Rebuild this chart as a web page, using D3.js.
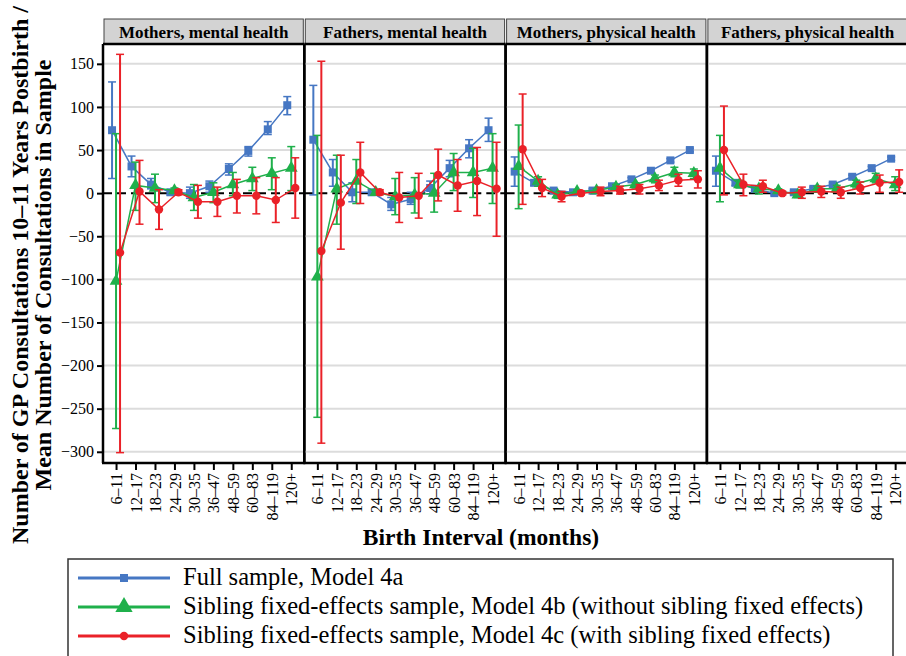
<!DOCTYPE html>
<html>
<head>
<meta charset="utf-8">
<script src="https://cdn.jsdelivr.net/npm/d3@7"></script>
<style>
  body { margin: 0; background: #fff; }
</style>
</head>
<body>
<div id="chart"></div>
<script>
'use strict';

var categories = ['6–11', '12–17', '18–23', '24–29', '30–35', '36–47', '48–59', '60–83', '84–119', '120+'];
var panels = ['Mothers, mental health', 'Fathers, mental health', 'Mothers, physical health', 'Fathers, physical health'];
var seriesNames = [
  'Full sample, Model 4a',
  'Sibling fixed-effects sample, Model 4b (without sibling fixed effects)',
  'Sibling fixed-effects sample, Model 4c (with sibling fixed effects)'
];
var yTicks = [150, 100, 50, 0, -50, -100, -150, -200, -250, -300];

// full sample, model 4a (one row per panel)
var fullEst = [
  [73, 31, 10, 1, 0, 8, 28, 49, 74, 102],
  [62, 24, 1, 1, -13, -7, 6, 29, 52, 73],
  [25, 12, 3, 1, 3, 8, 16, 26, 38, 50],
  [26, 12, 5, 0, 1, 5, 10, 19, 29, 40]
];
var fullLo = [
  [17, 19, 5, -2, -6, 1, 21, 43, 68, 91],
  [-2, 8, -10, -2, -20, -13, -1, 19, 41, 60],
  [8, 9, 1, -1, 1, 6, 14, 24, 36, 48],
  [8, 9, 3, -2, -1, 3, 8, 17, 27, 38]
];
var fullHi = [
  [129, 43, 17, 4, 7, 14, 34, 54, 83, 112],
  [125, 39, 12, 4, -5, 1, 14, 38, 62, 87],
  [42, 15, 5, 3, 5, 10, 18, 28, 40, 52],
  [43, 15, 7, 2, 3, 7, 12, 21, 31, 42]
];

// sibling fixed-effects sample, model 4b
var sibEst = [
  [-102, 9, 6, 3, -5, 1, 10, 17, 23, 29],
  [-97, 5, 14, 1, -4, -2, 0, 24, 24, 29],
  [31, 14, -2, 2, 3, 7, 10, 17, 24, 23],
  [29, 10, 5, 3, -2, 5, 5, 11, 17, 10]
];
var sibLo = [
  [-273, -20, -11, 0, -20, -11, -3, 3, 4, 3],
  [-260, -36, -12, -2, -25, -23, -22, 3, -5, -12],
  [-18, 8, -6, 0, 1, 4, 6, 12, 19, 17],
  [-10, 6, -1, 1, -5, 1, 1, 6, 12, 3]
];
var sibHi = [
  [69, 36, 22, 6, 10, 12, 24, 30, 41, 54],
  [67, 44, 39, 4, 17, 18, 23, 46, 52, 69],
  [79, 19, 1, 4, 5, 10, 12, 21, 30, 28],
  [67, 15, 8, 5, 1, 8, 9, 15, 23, 19]
];

// sibling fixed-effects sample, model 4c
var feEst = [
  [-69, 2, -19, 1, -10, -10, -3, -3, -8, 6],
  [-67, -11, 24, 1, -5, -3, 21, 9, 14, 5],
  [51, 6, -4, 0, 2, 3, 5, 9, 15, 16],
  [50, 10, 8, 0, 1, 2, 1, 6, 12, 13]
];
var feLo = [
  [-301, -36, -42, -2, -29, -27, -23, -24, -34, -29],
  [-290, -65, -12, -2, -34, -29, -9, -21, -26, -50],
  [-13, -4, -10, -2, -3, -1, -1, 3, 8, 6],
  [-2, -3, 1, -2, -6, -5, -6, -1, 1, 1]
];
var feHi = [
  [161, 38, 4, 4, 9, 7, 16, 18, 18, 41],
  [153, 44, 59, 4, 24, 23, 51, 39, 53, 59],
  [115, 16, 2, 2, 7, 8, 10, 15, 22, 26],
  [101, 22, 15, 2, 7, 8, 7, 13, 21, 27]
];

var colors = ['#4677c3', '#1fb04b', '#ea2128'];
var dodge = [-4, 0, 4];
var SERIF = '"Liberation Serif", "Times New Roman", serif';

var W = 906, H = 656;
var plotLeft = 103, plotTop = 44, plotBottom = 463, panelW = 201.3;

var svg = d3.select('#chart').append('svg')
  .attr('width', W)
  .attr('height', H);

var y = d3.scaleLinear()
  .domain([-313, 173])
  .range([plotBottom, plotTop]);

var x = d3.scalePoint()
  .domain(categories)
  .range([0, panelW])
  .padding(0.67);

var series = [
  {est: fullEst, lo: fullLo, hi: fullHi, shape: d3.symbolSquare, size: 64},
  {est: sibEst, lo: sibLo, hi: sibHi, shape: d3.symbolTriangle, size: 70},
  {est: feEst, lo: feLo, hi: feHi, shape: d3.symbolCircle, size: 56}
];

panels.forEach(function(title, p) {
  var g = svg.append('g')
    .attr('transform', 'translate(' + (plotLeft + p * panelW) + ',0)');

  // grid
  g.selectAll('.grid')
    .data(yTicks.filter(function(t) { return t !== 0; }))
    .enter().append('line')
    .attr('x1', 0).attr('x2', panelW)
    .attr('y1', function(d) { return y(d); })
    .attr('y2', function(d) { return y(d); })
    .attr('stroke', '#dcdcdc')
    .attr('stroke-width', 2);

  g.append('line')
    .attr('x1', 0).attr('x2', panelW)
    .attr('y1', y(0)).attr('y2', y(0))
    .attr('stroke', '#000')
    .attr('stroke-width', 2)
    .attr('stroke-dasharray', '9,5');

  series.forEach(function(s, k) {
    var pts = categories.map(function(c, i) {
      return {x: x(c) + dodge[k], est: s.est[p][i], lo: s.lo[p][i], hi: s.hi[p][i]};
    });
    var sg = g.append('g');

    sg.append('path')
      .datum(pts)
      .attr('fill', 'none')
      .attr('stroke', colors[k])
      .attr('stroke-width', 1.5)
      .attr('d', d3.line()
        .x(function(d) { return d.x; })
        .y(function(d) { return y(d.est); }));

    var bars = sg.selectAll('.err')
      .data(pts)
      .enter().append('g');
    bars.append('line')
      .attr('x1', function(d) { return d.x; })
      .attr('x2', function(d) { return d.x; })
      .attr('y1', function(d) { return y(d.lo); })
      .attr('y2', function(d) { return y(d.hi); })
      .attr('stroke', colors[k])
      .attr('stroke-width', 2);
    ['lo', 'hi'].forEach(function(key) {
      bars.append('line')
        .attr('x1', function(d) { return d.x - 4; })
        .attr('x2', function(d) { return d.x + 4; })
        .attr('y1', function(d) { return y(d[key]); })
        .attr('y2', function(d) { return y(d[key]); })
        .attr('stroke', colors[k])
        .attr('stroke-width', 1.5);
    });

    sg.selectAll('.mark')
      .data(pts)
      .enter().append('path')
      .attr('transform', function(d) { return 'translate(' + d.x + ',' + y(d.est) + ')'; })
      .attr('d', d3.symbol().type(s.shape).size(s.size))
      .attr('fill', colors[k]);
  });

  // panel frame
  g.append('line')
    .attr('x1', 0).attr('x2', 0)
    .attr('y1', plotTop).attr('y2', plotBottom)
    .attr('stroke', '#000').attr('stroke-width', 2.5);
  g.append('line')
    .attr('x1', panelW).attr('x2', panelW)
    .attr('y1', plotTop).attr('y2', plotBottom)
    .attr('stroke', '#000').attr('stroke-width', 2.5);

  // strip
  g.append('rect')
    .attr('x', 1).attr('y', 19)
    .attr('width', panelW - 2).attr('height', plotTop - 19)
    .attr('fill', '#d3d3d3')
    .attr('stroke', '#444')
    .attr('stroke-width', 1);
  g.append('line')
    .attr('x1', 0).attr('x2', panelW)
    .attr('y1', plotTop).attr('y2', plotTop)
    .attr('stroke', '#000').attr('stroke-width', 2.5);
  g.append('text')
    .attr('x', panelW / 2).attr('y', 37.5)
    .attr('text-anchor', 'middle')
    .style('font-family', SERIF)
    .attr('font-weight', 'bold')
    .attr('font-size', 17)
    .text(title);

  // x axis
  var xa = g.append('g')
    .attr('transform', 'translate(0,' + plotBottom + ')')
    .call(d3.axisBottom(x).tickSize(7).tickSizeOuter(0));
  xa.select('.domain').remove();
  xa.selectAll('line').attr('stroke', '#000').attr('stroke-width', 2);
  xa.selectAll('text')
    .style('font-family', SERIF)
    .attr('font-size', 16)
    .attr('fill', '#000')
    .attr('transform', 'rotate(-90)')
    .attr('text-anchor', 'end')
    .attr('dy', '0.35em')
    .attr('x', -10)
    .attr('y', 0);
  g.append('line')
    .attr('x1', -1).attr('x2', panelW + 1)
    .attr('y1', plotBottom).attr('y2', plotBottom)
    .attr('stroke', '#000').attr('stroke-width', 2.5);
});

// y axis
var ya = svg.append('g')
  .attr('transform', 'translate(' + plotLeft + ',0)')
  .call(d3.axisLeft(y).tickValues(yTicks).tickSize(6)
    .tickFormat(function(d) { return d < 0 ? '\u2212' + Math.abs(d) : d; }));
ya.select('.domain').remove();
ya.selectAll('line').attr('stroke', '#000').attr('stroke-width', 2);
ya.selectAll('text')
  .style('font-family', SERIF)
  .attr('font-size', 16)
  .attr('fill', '#000')
  .attr('x', -9);

// axis titles
svg.append('text')
  .attr('x', 481).attr('y', 545)
  .attr('text-anchor', 'middle')
  .style('font-family', SERIF)
  .attr('font-weight', 'bold')
  .attr('font-size', 23.5)
  .text('Birth Interval (months)');

var yt = svg.append('text')
  .attr('transform', 'translate(0,275) rotate(-90)')
  .attr('text-anchor', 'middle')
  .style('font-family', SERIF)
  .attr('font-weight', 'bold')
  .attr('font-size', 24);
yt.append('tspan').attr('x', 0).attr('y', 28)
  .text('Number of GP Consultations 10–11 Years Postbirth /');
yt.append('tspan').attr('x', 0).attr('y', 51)
  .text('Mean Number of Consultations in Sample');

// legend
var lg = svg.append('g');
lg.append('rect')
  .attr('x', 68).attr('y', 559)
  .attr('width', 825).attr('height', 110)
  .attr('fill', '#fff')
  .attr('stroke', '#333')
  .attr('stroke-width', 1.5);

seriesNames.forEach(function(name, k) {
  var ly = 578 + k * 29;
  lg.append('line')
    .attr('x1', 78).attr('x2', 170)
    .attr('y1', ly).attr('y2', ly)
    .attr('stroke', colors[k])
    .attr('stroke-width', 3);
  lg.append('path')
    .attr('transform', 'translate(124,' + ly + ')')
    .attr('d', d3.symbol().type(series[k].shape).size([64, 130, 56][k]))
    .attr('fill', colors[k]);
  lg.append('text')
    .attr('x', 183).attr('y', ly + 7)
    .style('font-family', SERIF)
    .attr('font-size', 24.5)
    .text(name);
});
</script>
</body>
</html>
